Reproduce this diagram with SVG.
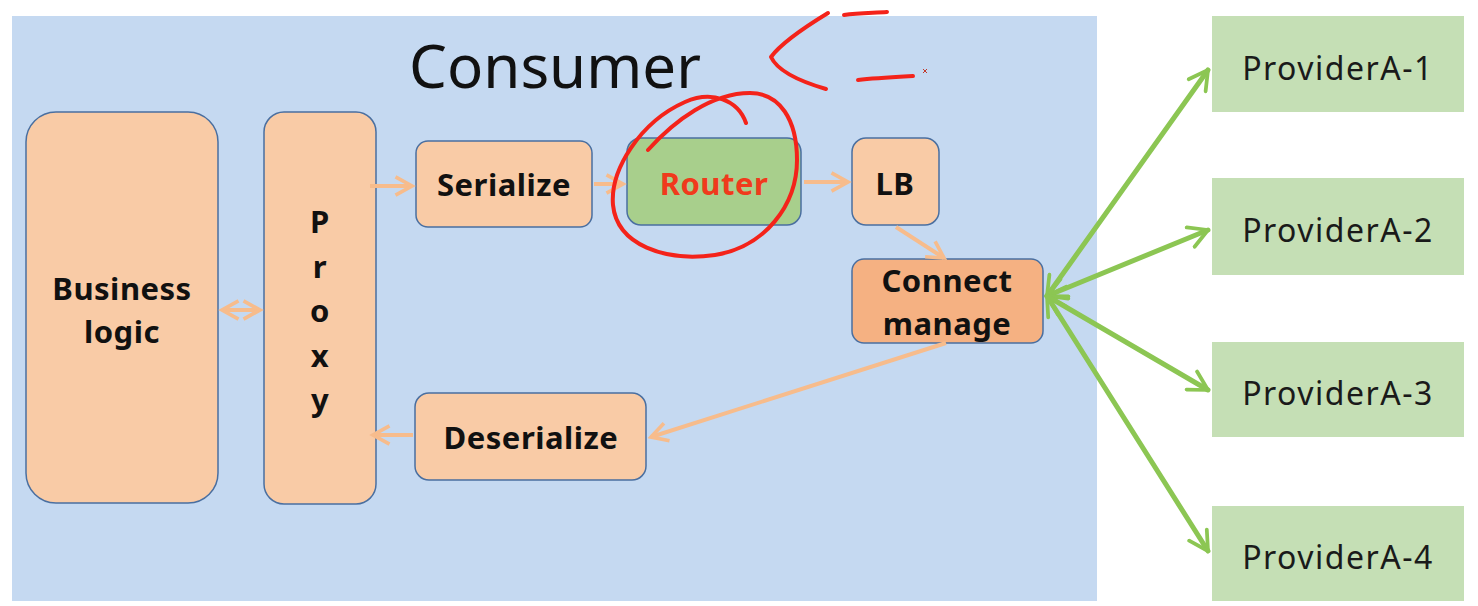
<svg xmlns="http://www.w3.org/2000/svg" width="1478" height="606" viewBox="0 0 1478 606">
<defs>
<style>
.box{fill:#f9cba6;stroke:#4a6fa0;stroke-width:1.5}
.bt{font-family:"Noto Sans","Open Sans",sans-serif;font-weight:bold;font-size:31px;fill:#111;text-anchor:middle;letter-spacing:0.5px}
.prov{fill:#c5dfb5}
.pt{font-family:"Noto Sans","Open Sans",sans-serif;font-size:32px;fill:#1a1a1a;text-anchor:middle;letter-spacing:1.5px}
.oa{stroke:#f7bc8c;stroke-width:4;fill:none}
.ga{stroke:#8cc653;stroke-width:5;fill:none;stroke-linecap:round}
.red{stroke:#f4231a;stroke-width:4;fill:none;stroke-linecap:round;stroke-linejoin:round}
</style>
<marker id="oh" viewBox="0 0 12 12" refX="10" refY="6" markerWidth="5.5" markerHeight="5.5" orient="auto-start-reverse" markerUnits="strokeWidth">
<path d="M1,1 L10,6 L1,11" fill="none" stroke="#f7bc8c" stroke-width="2"/>
</marker>
<marker id="gh" viewBox="0 0 12 12" refX="10" refY="6" markerWidth="5" markerHeight="5" orient="auto-start-reverse" markerUnits="strokeWidth">
<path d="M1,1 L10,6 L1,11" fill="none" stroke="#8cc653" stroke-width="1.8" stroke-linecap="round" stroke-linejoin="round"/>
</marker>
</defs>
<rect width="1478" height="606" fill="#ffffff"/>
<g id="consumer">
<rect x="12" y="16" width="1085" height="585" fill="#c5d9f1"/>
<text x="555" y="88" font-family="Noto Sans, Open Sans, sans-serif" font-size="60" fill="#111" text-anchor="middle">Consumer</text>
</g>
<g id="business">
<rect class="box" x="26" y="112" width="192" height="391" rx="30"/>
<text class="bt" x="122" y="300">Business</text>
<text class="bt" x="122" y="343">logic</text>
</g>
<g id="proxy">
<rect class="box" x="264" y="112" width="112" height="392" rx="20"/>
<text class="bt" x="320" y="233">P</text>
<text class="bt" x="320" y="278">r</text>
<text class="bt" x="320" y="322">o</text>
<text class="bt" x="320" y="367">x</text>
<text class="bt" x="320" y="411">y</text>
</g>
<g id="serialize">
<rect class="box" x="416" y="141" width="176" height="86" rx="12"/>
<text class="bt" x="504" y="196">Serialize</text>
</g>
<g id="router">
<rect x="627" y="138" width="174" height="87" rx="14" fill="#a8cf8c" stroke="#4a6fa0" stroke-width="1.5"/>
<text class="bt" x="714" y="195" style="fill:#f03a1c">Router</text>
</g>
<g id="lb">
<rect class="box" x="852" y="138" width="87" height="87" rx="14"/>
<text class="bt" x="895" y="195">LB</text>
</g>
<g id="connect">
<rect x="852" y="259" width="191" height="84" rx="12" fill="#f5b182" stroke="#4a6fa0" stroke-width="1.5"/>
<text class="bt" x="947" y="292">Connect</text>
<text class="bt" x="947" y="335">manage</text>
</g>
<g id="deserialize">
<rect class="box" x="415" y="393" width="231" height="87" rx="14"/>
<text class="bt" x="531" y="449">Deserialize</text>
</g>
<g id="p1"><rect class="prov" x="1212" y="16" width="252" height="96"/><text class="pt" x="1338" y="80">ProviderA-1</text></g>
<g id="p2"><rect class="prov" x="1212" y="178" width="252" height="97"/><text class="pt" x="1338" y="242">ProviderA-2</text></g>
<g id="p3"><rect class="prov" x="1212" y="342" width="252" height="95"/><text class="pt" x="1338" y="405">ProviderA-3</text></g>
<g id="p4"><rect class="prov" x="1212" y="506" width="252" height="95"/><text class="pt" x="1338" y="569">ProviderA-4</text></g>
<g id="connectors">
<line class="oa" x1="222" y1="310" x2="260" y2="310" marker-start="url(#oh)" marker-end="url(#oh)"/>
<line class="oa" x1="370" y1="186" x2="412" y2="186" marker-end="url(#oh)"/>
<line class="oa" x1="594" y1="184" x2="623" y2="184" marker-end="url(#oh)"/>
<line class="oa" x1="804" y1="182" x2="848" y2="182" marker-end="url(#oh)"/>
<line class="oa" x1="896" y1="227" x2="944" y2="258" marker-end="url(#oh)"/>
<line class="oa" x1="946" y1="343" x2="651" y2="437" marker-end="url(#oh)"/>
<line class="oa" x1="413" y1="435" x2="373" y2="435" marker-end="url(#oh)"/>
<line class="ga" x1="1047" y1="296" x2="1208" y2="70" marker-start="url(#gh)" marker-end="url(#gh)"/>
<line class="ga" x1="1047" y1="296" x2="1208" y2="230" marker-start="url(#gh)" marker-end="url(#gh)"/>
<line class="ga" x1="1047" y1="296" x2="1208" y2="390" marker-start="url(#gh)" marker-end="url(#gh)"/>
<line class="ga" x1="1047" y1="296" x2="1208" y2="551" marker-start="url(#gh)" marker-end="url(#gh)"/>
</g>
<g id="annotations">
<path class="red" d="M746,123 C738,100 712,90 685,102 C640,122 610,170 613,205 C617,245 665,262 715,255 C765,247 797,205 797,160 C797,120 780,93 750,93 C712,93 675,120 648,150"/>
<path class="red" d="M828,13 C805,27 782,42 771,57 C778,72 802,82 826,89"/>
<path class="red" d="M844,15 C858,13 872,13 887,12"/>
<path class="red" d="M858,80 C875,78 895,77 913,76"/>
<path d="M923,69 L927,73 M927,69 L923,73" stroke="#c0392b" stroke-width="1"/>
</g>
</svg>
